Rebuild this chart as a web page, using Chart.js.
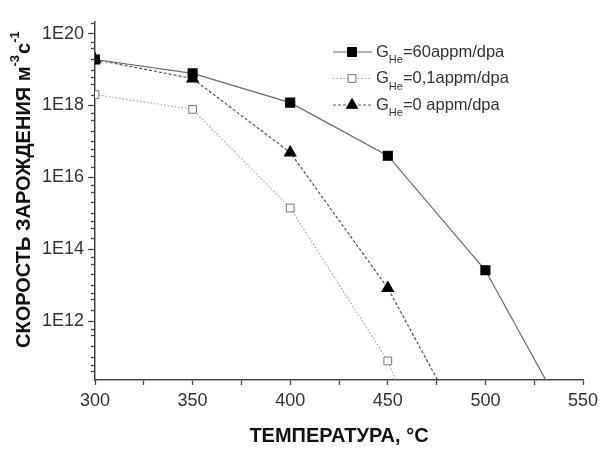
<!DOCTYPE html>
<html>
<head>
<meta charset="utf-8">
<script src="https://cdn.jsdelivr.net/npm/chart.js@4/dist/chart.umd.min.js"></script>
<style>
  body { margin: 0; background: #fff; }
  #wrap { width: 601px; height: 451px; }
</style>
</head>
<body>
<div id="wrap"><canvas id="chart" width="601" height="451"></canvas></div>
<script>
// temperatures, °C
const temps = [300, 350, 400, 450, 500, 550];
// nucleation rate, m^-3 s^-1 (last points lie below the axis and are clipped)
const rate60 = [1.9e19, 7.8e18, 1.2e18, 4.0e16, 2.6e13, 3e8];
const rate01 = [2.0e18, 7.8e17, 1.4e15, 7.8e10, 2e4];
const rate0 = [1.9e19, 5.6e18, 4.9e16, 8.3e12, 8e7];
const legendTails = ['=60appm/dpa', '=0,1appm/dpa', '=0 appm/dpa'];
const legendSub = 'He';
const yLabelDecades = [12, 14, 16, 18, 20];
const yMinorMult = [1, 2, 4, 6];
const yTitleParts = [['СКОРОСТЬ ЗАРОЖДЕНИЯ м', false], ['-3', true], ['с', false], ['-1', true]];

function pts(vals) {
  return vals.map((v, i) => ({ x: temps[i], y: v }));
}

const FONT = '"Liberation Sans", Arial, sans-serif';

// legend, y title and minor y ticks drawn by hand (subscripts / superscripts)
const extrasPlugin = {
  id: 'extras',
  afterDraw(chart) {
    const ctx = chart.ctx;
    const ys = chart.scales.y;

    // minor ticks on the log axis
    ctx.save();
    ctx.strokeStyle = '#444';
    ctx.lineWidth = 1.3;
    for (let e = 10; e <= 20; e++) {
      yMinorMult.forEach(m => {
        const v = m * Math.pow(10, e);
        if (v < ys.min || v > ys.max) return;
        if (m === 1 && yLabelDecades.includes(e)) return;
        const p = Math.round(ys.getPixelForValue(v)) + 0.5;
        ctx.beginPath();
        ctx.moveTo(ys.right - 4, p);
        ctx.lineTo(ys.right, p);
        ctx.stroke();
      });
    }
    ctx.restore();

    // y axis title
    ctx.save();
    ctx.translate(24, 348);
    ctx.rotate(-Math.PI / 2);
    ctx.fillStyle = '#111';
    ctx.textBaseline = 'middle';
    let tx = 0;
    yTitleParts.forEach(([s, sup]) => {
      ctx.font = (sup ? 'bold 13px ' : 'bold 20px ') + FONT;
      ctx.fillText(s, tx, sup ? -9 : 0);
      tx += ctx.measureText(s).width + (sup ? 1 : 0);
    });
    ctx.restore();

    // legend
    chart.data.datasets.forEach((ds, i) => {
      const y = 52 + i * 26.5;
      ctx.save();
      ctx.strokeStyle = ds.borderColor;
      ctx.lineWidth = ds.borderWidth;
      ctx.setLineDash(ds.borderDash || []);
      ctx.beginPath();
      ctx.moveTo(333, y);
      ctx.lineTo(372, y);
      ctx.stroke();
      ctx.setLineDash([]);
      ctx.fillStyle = ds.pointBackgroundColor;
      ctx.strokeStyle = ds.pointBorderColor;
      ctx.lineWidth = 1;
      Chart.helpers.drawPoint(ctx, {
        pointStyle: ds.pointStyle,
        radius: ds.pointRadius,
        borderWidth: 1
      }, 352, y);
      ctx.fillStyle = '#333';
      ctx.textBaseline = 'middle';
      ctx.font = '16.5px ' + FONT;
      ctx.fillText('G', 376, y);
      let x = 376 + ctx.measureText('G').width;
      ctx.font = '11px ' + FONT;
      ctx.fillText(legendSub, x, y + 8);
      x += ctx.measureText(legendSub).width;
      ctx.font = '16.5px ' + FONT;
      ctx.fillText(legendTails[i], x, y);
      ctx.restore();
    });
  }
};

const tickFont = { family: FONT, size: 18 };
const titleFont = { family: FONT, size: 20, weight: 'bold' };

new Chart(document.getElementById('chart'), {
  type: 'line',
  data: {
    datasets: [
      {
        label: 'GHe' + legendTails[0],
        data: pts(rate60),
        borderColor: '#6a6a6a',
        borderWidth: 1.2,
        pointStyle: 'rect',
        pointRadius: 6.3,
        pointBackgroundColor: '#000',
        pointBorderColor: '#000',
        tension: 0
      },
      {
        label: 'GHe' + legendTails[1],
        data: pts(rate01),
        borderColor: '#a8a8a8',
        borderWidth: 1.2,
        borderDash: [1.5, 2],
        pointStyle: 'rect',
        pointRadius: 5.5,
        pointBackgroundColor: '#fff',
        pointBorderColor: '#777',
        pointBorderWidth: 1,
        tension: 0
      },
      {
        label: 'GHe' + legendTails[2],
        data: pts(rate0),
        borderColor: '#555',
        borderWidth: 1.2,
        borderDash: [3, 2],
        pointStyle: 'triangle',
        pointRadius: 6.5,
        pointBackgroundColor: '#000',
        pointBorderColor: '#000',
        tension: 0
      }
    ]
  },
  options: {
    responsive: false,
    animation: false,
    devicePixelRatio: 1,
    layout: { padding: { left: 0, top: 22, right: 18, bottom: 0 } },
    plugins: {
      legend: { display: false },
      tooltip: { enabled: false }
    },
    scales: {
      x: {
        type: 'linear',
        min: 300,
        max: 550,
        afterFit: function (scale) {
          scale.height = 71;
          scale.paddingRight = 0;
          scale.paddingLeft = 0;
        },
        ticks: {
          stepSize: 25,
          color: '#333',
          font: tickFont,
          padding: 5,
          maxRotation: 0,
          callback: function (v) { return v % 50 === 0 ? String(v) : ''; }
        },
        grid: { drawOnChartArea: false, drawTicks: true, tickLength: 5, color: '#444', tickWidth: 1.3 },
        border: { display: true, color: '#444', width: 1.5 },
        title: {
          display: true,
          text: 'ТЕМПЕРАТУРА, °C',
          color: '#111',
          font: titleFont,
          padding: { top: 4, bottom: 3 }
        }
      },
      y: {
        type: 'logarithmic',
        min: 2.3e10,
        max: 2.1e20,
        afterFit: function (scale) { scale.width = 95; },
        afterBuildTicks: function (scale) {
          scale.ticks = yLabelDecades.map(e => ({ value: Math.pow(10, e) }));
        },
        ticks: {
          color: '#333',
          font: tickFont,
          padding: 4,
          callback: function (v) {
            return '1E' + Math.round(Math.log10(v));
          }
        },
        grid: { drawOnChartArea: false, drawTicks: true, tickLength: 7, color: '#444', tickWidth: 1.3 },
        border: { display: true, color: '#444', width: 1.5 },
        title: { display: false }
      }
    }
  },
  plugins: [extrasPlugin]
});
</script>
</body>
</html>
